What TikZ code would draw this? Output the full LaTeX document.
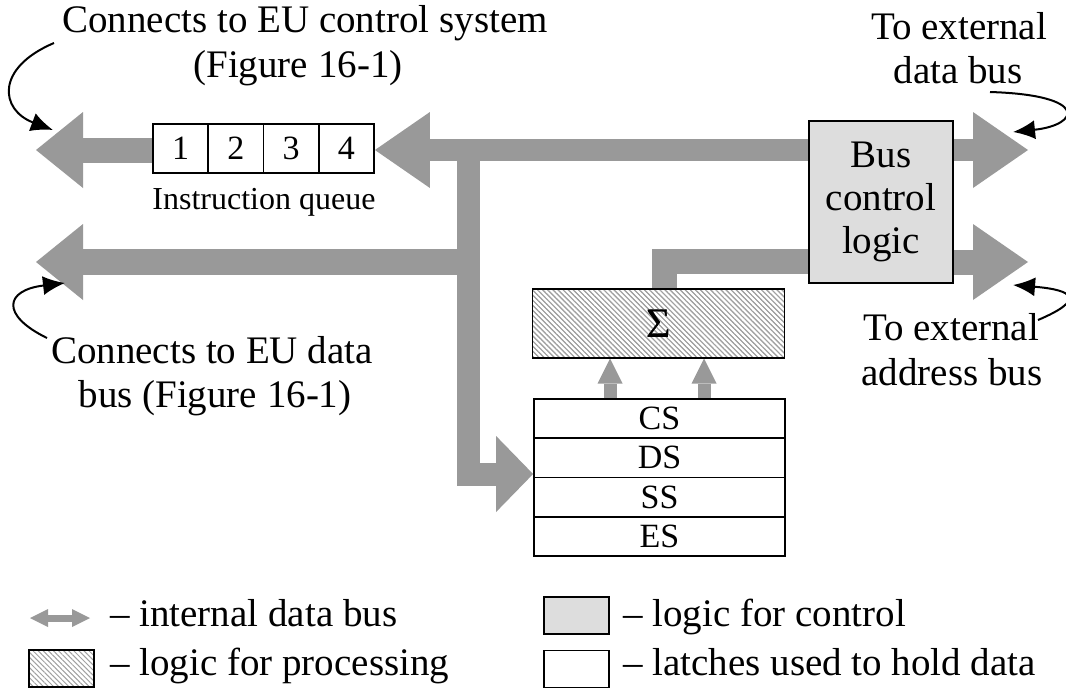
\documentclass[tikz,border=0pt]{standalone}
\usepackage{fontspec}
\setmainfont{Liberation Serif}
\usetikzlibrary{arrows.meta,patterns.meta}
\definecolor{busgray}{RGB}{153,153,153}
\definecolor{ctrlfill}{RGB}{221,221,221}
\definecolor{hatchgray}{RGB}{160,160,160}
\begin{document}
\begin{tikzpicture}[x=1pt,y=-1pt,
  mybus/.style={draw=busgray, line join=miter},
  bighead/.style={-{Triangle[length=#1,width=76pt,line width=0pt]}},
  mybox/.style={draw=black, line width=1.8pt, inner sep=0pt},
  latch/.style={mybox, fill=white},
  ctrlbox/.style={mybox, fill=ctrlfill},
  procbox/.style={mybox, pattern={Lines[angle=-45,distance=3.6pt,line width=1pt]}, pattern color=hatchgray},
  lbl/.style={inner sep=0pt, font=\fontsize{39}{44}\selectfont},
  small/.style={inner sep=0pt, font=\fontsize{32}{36}\selectfont},
  regtext/.style={font=\fontsize{34}{38}\selectfont},
  qtext/.style={font=\fontsize{34}{38}\selectfont},
  noteline/.style={-{Latex[length=22pt,width=19pt]}, line width=2pt},
]
\useasboundingbox (0,0) rectangle (1066,689);

% ---------- boxes ----------
\node[ctrlbox, minimum width=144pt, minimum height=162pt, align=center,
      font=\fontsize{39}{43}\selectfont] (bcl) at (881,202) {Bus\\control\\logic};

\node[latch, qtext, minimum width=55.25pt, minimum height=49pt] (q1) at (180.6,148.5) {1};
\node[latch, qtext, minimum width=55.25pt, minimum height=49pt] (q2) at (235.9,148.5) {2};
\node[latch, qtext, minimum width=55.25pt, minimum height=49pt] (q3) at (291.1,148.5) {3};
\node[latch, qtext, minimum width=55.25pt, minimum height=49pt] (q4) at (346.4,148.5) {4};
\node[small, anchor=base] (iq) at (264,209) {Instruction queue};

\node[procbox, minimum width=252pt, minimum height=69pt, font=\fontsize{42}{46}\selectfont] (alu) at (658.5,323.5) {Σ};

\node[latch, regtext, minimum width=251pt, minimum height=39.25pt] (cs) at (659.5,418.6) {CS};
\node[latch, regtext, minimum width=251pt, minimum height=39.25pt] (ds) at (659.5,457.9) {DS};
\node[latch, regtext, minimum width=251pt, minimum height=39.25pt] (ss) at (659.5,497.1) {SS};
\node[latch, regtext, minimum width=251pt, minimum height=39.25pt] (es) at (659.5,536.4) {ES};

% ---------- bus coordinates ----------
\coordinate (ytop) at (0,150);
\coordinate (ylow) at (0,262);
\coordinate (yreg) at (0,474);
\coordinate (ysig) at (0,261);
\coordinate (tipA) at (36,150);
\coordinate (tipB) at (36,262);
\coordinate (jn) at (468,150);
\coordinate (jn2) at (468,262);
\coordinate (tipC) at (1028,150);
\coordinate (tipD) at (1028,262);
\coordinate (sg) at (664,0);
\coordinate (ar1) at (610,0);
\coordinate (ar2) at (704,0);

% ---------- buses ----------
\draw[mybus, line width=22pt, bighead=55pt] (bcl.west |- ytop) -- (q4.east |- ytop);
\draw[mybus, line width=25pt, bighead=47pt] (q1.west |- ytop) -- (tipA);
\draw[mybus, line width=23pt, bighead=37pt] (jn) -- (jn |- yreg) -- (ds.west |- yreg);
\draw[mybus, line width=26pt, bighead=47pt] (jn2) -- (tipB);
\draw[mybus, line width=25pt] (sg |- alu.north) -- (sg |- ysig) -- (bcl.west |- ysig);
\draw[mybus, line width=22pt, bighead=55pt] (bcl.east |- ytop) -- (tipC);
\draw[mybus, line width=25pt, bighead=55pt] (bcl.east |- ylow) -- (tipD);
\draw[mybus, line width=13pt, -{Triangle[length=25pt,width=25pt,line width=0pt]}] (ar1 |- cs.north) -- (ar1 |- alu.south);
\draw[mybus, line width=13pt, -{Triangle[length=25pt,width=25pt,line width=0pt]}] (ar2 |- cs.north) -- (ar2 |- alu.south);

% redraw boxes on top of bus ends
\node[ctrlbox, minimum width=144pt, minimum height=162pt, align=center,
      font=\fontsize{39}{43}\selectfont] at (bcl) {Bus\\control\\logic};
\node[procbox, minimum width=252pt, minimum height=69pt, font=\fontsize{42}{46}\selectfont] at (alu) {Σ};

% ---------- labels ----------
\node[lbl, anchor=base] (t1) at (305,32) {Connects to EU control system};
\node[lbl, anchor=base] (t2) at (298,77) {(Figure 16-1)};
\node[lbl, anchor=base] (t3) at (959,39) {To external};
\node[lbl, anchor=base] (t4) at (958,83) {data bus};
\node[lbl, anchor=base] (t5) at (951,340) {To external};
\node[lbl, anchor=base] (t6) at (952,385) {address bus};
\node[lbl, anchor=base] (t7) at (212,363) {Connects to EU data};
\node[lbl, anchor=base] (t8) at (215,407) {bus (Figure 16-1)};

% ---------- pointer curves ----------
\coordinate (c1s) at (54,43);
\coordinate (c1e) at (53,130);
\draw[noteline] (c1s) .. controls (-5,68) and (0,110) .. (c1e);
\coordinate (c2s) at (47,338);
\coordinate (c2e) at (65,283);
\draw[noteline] (c2s) .. controls (0,315) and (5,290) .. (c2e);
\coordinate (c3s) at (990,92);
\coordinate (c3e) at (1013,132);
\draw[noteline] (c3s) .. controls (1090,95) and (1080,125) .. (c3e);
\coordinate (c4s) at (1038,320);
\coordinate (c4e) at (1013,285);
\draw[noteline] (c4s) .. controls (1085,300) and (1075,290) .. (c4e);

% ---------- legend ----------
\coordinate (la) at (30,618);
\coordinate (lb) at (90,618);
\draw[mybus, line width=7pt, {Triangle[length=18pt,width=18pt,line width=0pt]}-{Triangle[length=18pt,width=18pt,line width=0pt]}] (la) -- (lb);
\node[lbl, anchor=base west] (l1) at (110,626) {– internal data bus};
\node[procbox, minimum width=65pt, minimum height=37pt] (lg2) at (61.5,668.5) {};
\node[lbl, anchor=base west] (l2) at (110,675) {– logic for processing};
\node[ctrlbox, minimum width=65pt, minimum height=37pt] (lg3) at (576.5,615.5) {};
\node[lbl, anchor=base west] (l3) at (623,626) {– logic for control};
\node[latch, minimum width=65pt, minimum height=37pt] (lg4) at (576.5,669) {};
\node[lbl, anchor=base west] (l4) at (623,675) {– latches used to hold data};
\end{tikzpicture}
\end{document}
